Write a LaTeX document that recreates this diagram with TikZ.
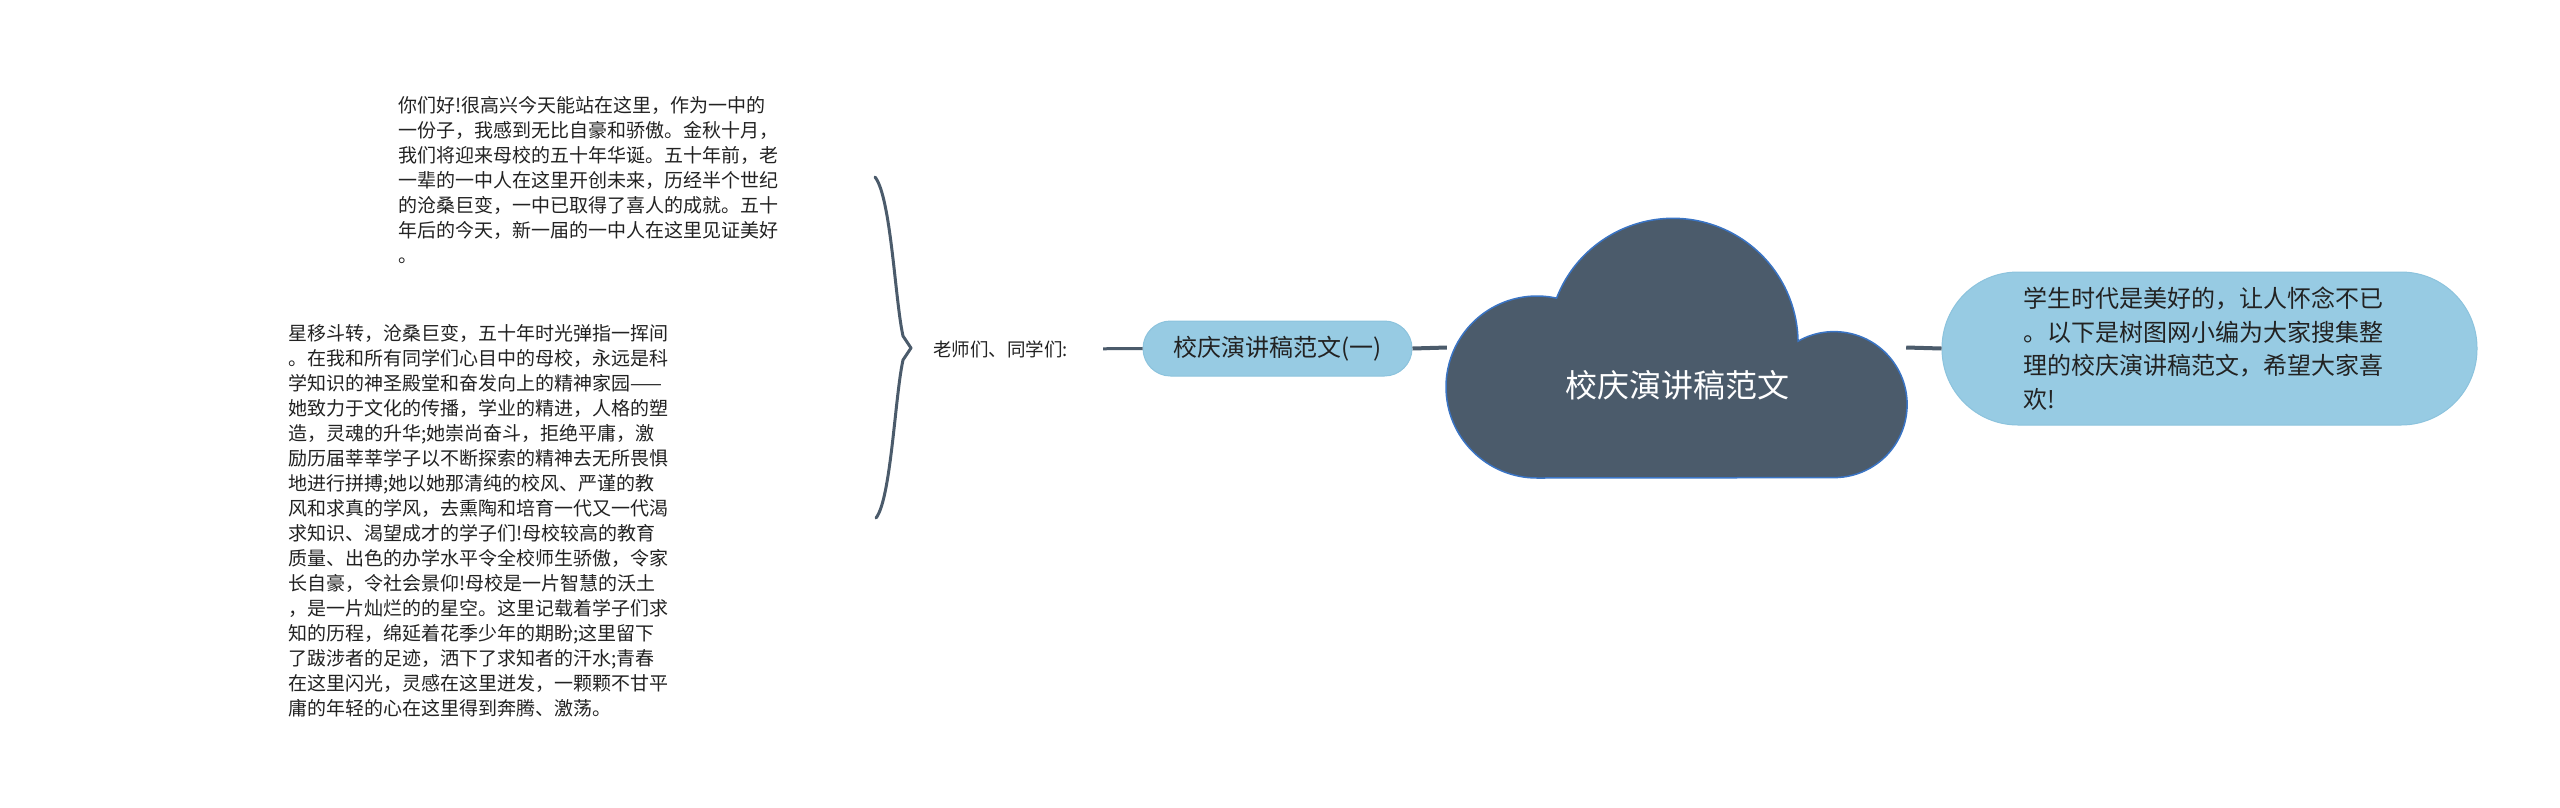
\documentclass[tikz,border=0pt]{standalone}
\usepackage{fontspec}
\setmainfont{Noto Sans CJK SC}
\definecolor{slate}{HTML}{4B5B6B}
\definecolor{cloudline}{HTML}{3A74C4}
\definecolor{pillfill}{HTML}{97CBE3}
\definecolor{pillline}{HTML}{8CC3DD}
\definecolor{ink}{HTML}{222222}
\begin{document}
\begin{tikzpicture}[x=1pt,y=-1pt,
  conn/.style={draw=slate, line width=4pt},
  thinconn/.style={draw=slate, line width=3pt},
  bracepath/.style={draw=slate, line width=3pt, line join=round, line cap=round},
  pill/.style={fill=pillfill, draw=pillline, line width=1pt, text=ink, inner sep=0pt},
  txt/.style={text=ink, inner sep=0pt, align=left, font=\fontsize{19}{25}\selectfont}]
\useasboundingbox (0,0) rectangle (2560,807);

% nodes
\node[minimum width=459, minimum height=261, inner sep=0pt] (cloud) at (1676.5,347.5) {};
\node[pill, minimum width=269, minimum height=55, rounded corners=27.5pt,
      font=\fontsize{24}{28}\selectfont] (mid) at (1277.5,348.5) {校庆演讲稿范文(一)};
\node[pill, minimum width=535, minimum height=153, rounded corners=76pt,
      text width=372, align=left, font=\fontsize{24}{33.5}\selectfont] (sum) at (2209.5,348.5)
      {学生时代是美好的，让人怀念不已\\。以下是树图网小编为大家搜集整\\理的校庆演讲稿范文，希望大家喜\\欢!};
\node[text=ink, inner sep=0pt, anchor=west, font=\fontsize{18.5}{22}\selectfont] (lbl) at (933,349) {老师们、同学们:};

\node[txt, anchor=north west] (p1) at (398,96)
{你们好!很高兴今天能站在这里，作为一中的\\
一份子，我感到无比自豪和骄傲。金秋十月，\\
我们将迎来母校的五十年华诞。五十年前，老\\
一辈的一中人在这里开创未来，历经半个世纪\\
的沧桑巨变，一中已取得了喜人的成就。五十\\
年后的今天，新一届的一中人在这里见证美好\\
。};

\node[txt, anchor=north west] (p2) at (288,324)
{星移斗转，沧桑巨变，五十年时光弹指一挥间\\
。在我和所有同学们心目中的母校，永远是科\\
学知识的神圣殿堂和奋发向上的精神家园——\\
她致力于文化的传播，学业的精进，人格的塑\\
造，灵魂的升华;她崇尚奋斗，拒绝平庸，激\\
励历届莘莘学子以不断探索的精神去无所畏惧\\
地进行拼搏;她以她那清纯的校风、严谨的教\\
风和求真的学风，去熏陶和培育一代又一代渴\\
求知识、渴望成才的学子们!母校较高的教育\\
质量、出色的办学水平令全校师生骄傲，令家\\
长自豪，令社会景仰!母校是一片智慧的沃土\\
，是一片灿烂的的星空。这里记载着学子们求\\
知的历程，绵延着花季少年的期盼;这里留下\\
了跋涉者的足迹，洒下了求知者的汗水;青春\\
在这里闪光，灵感在这里迸发，一颗颗不甘平\\
庸的年轻的心在这里得到奔腾、激荡。};

% connectors
\draw[conn] (mid.east) -- (cloud.west);
\draw[conn] (cloud.east) -- (sum.west);
\draw[thinconn, shorten <=35pt] (lbl.east) -- (mid.west);

% cloud shape
\path[fill=slate, draw=cloudline, line width=1.5pt]
  (1537,478) arc[start angle=90, end angle=282.4, radius=91]
  arc[start angle=201.2, end angle=359, radius=125]
  arc[start angle=240.4, end angle=450, radius=73]
  -- cycle;
\node[text=white, inner sep=0pt, font=\fontsize{32}{36}\selectfont] (rootlabel) at (1677,385) {校庆演讲稿范文};

% brace
\draw[bracepath] (875,177) .. controls (891,197) and (895,300) .. (903,336)
  -- (911,348) -- (903,360) .. controls (895,396) and (891,499) .. (876,518);
\end{tikzpicture}
\end{document}
